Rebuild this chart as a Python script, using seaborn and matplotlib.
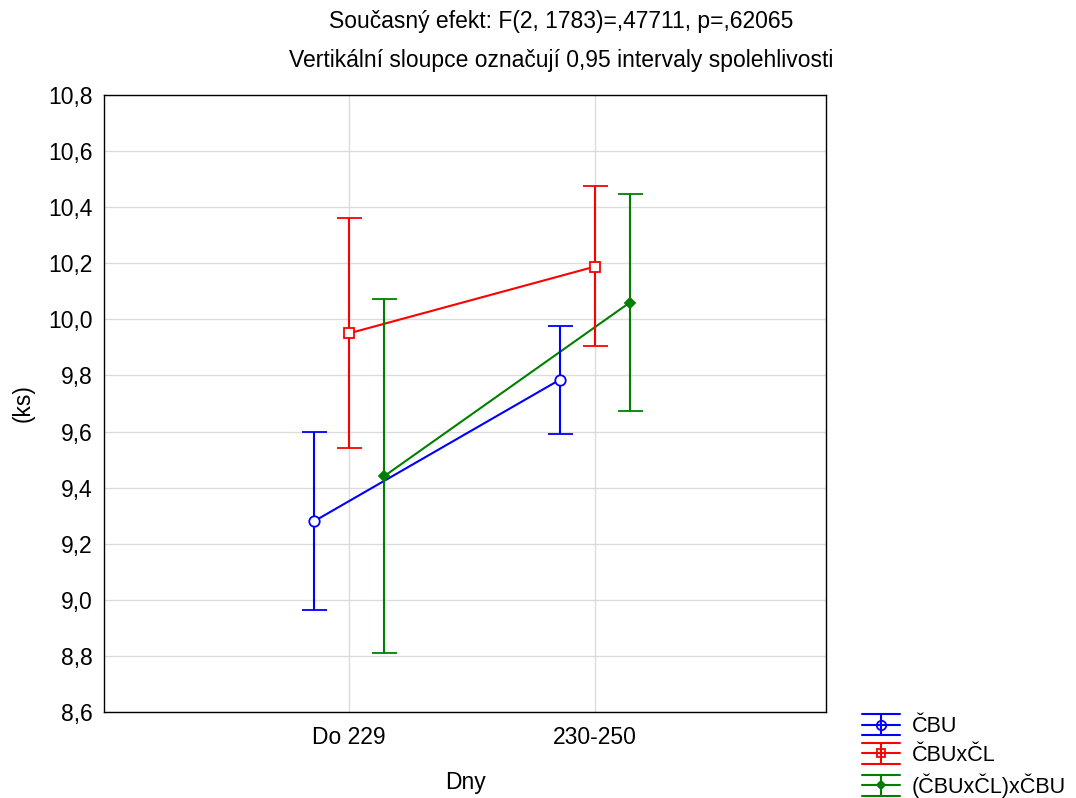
import numpy as np
import pandas as pd
import matplotlib
matplotlib.use("Agg")
import matplotlib.pyplot as plt
from matplotlib.lines import Line2D
from matplotlib.legend_handler import HandlerBase
import seaborn as sns

# data
categories = ["Do 229", "230-250"]
groups = ["ČBU", "ČBUxČL", "(ČBUxČL)xČBU"]
means_cbu = [9.28, 9.785]
low_cbu = [8.965, 9.592]
high_cbu = [9.597, 9.975]
means_cbucl = [9.95, 10.188]
low_cbucl = [9.54, 9.905]
high_cbucl = [10.362, 10.475]
means_mix = [9.44, 10.06]
low_mix = [8.812, 9.672]
high_mix = [10.072, 10.447]
ytick_values = [8.6, 8.8, 9.0, 9.2, 9.4, 9.6, 9.8, 10.0, 10.2, 10.4, 10.6, 10.8]
ytick_labels = ["8,6", "8,8", "9,0", "9,2", "9,4", "9,6", "9,8", "10,0", "10,2", "10,4", "10,6", "10,8"]

sns.set_style("white")
plt.rcParams['font.family'] = ['Liberation Sans', 'DejaVu Sans']
plt.rcParams['font.size'] = 16.5
plt.rcParams['text.color'] = 'black'
plt.rcParams['axes.labelcolor'] = 'black'
plt.rcParams['xtick.color'] = 'black'
plt.rcParams['ytick.color'] = 'black'

colors = ["#0000ff", "#ff0000", "#008000"]
markers = ["o", "s", "D"]
msizes = [7.5, 7, 5]
offsets = [-0.142, 0.0, 0.142]

means = [means_cbu, means_cbucl, means_mix]
lows = [low_cbu, low_cbucl, low_mix]
highs = [high_cbu, high_cbucl, high_mix]

rows = []
for g, m, lo, hi, off in zip(groups, means, lows, highs, offsets):
    for i, c in enumerate(categories):
        rows.append({"group": g, "Dny": c, "x": i + off, "mean": m[i], "low": lo[i], "high": hi[i]})
df = pd.DataFrame(rows)


# legend key like the original: caps + line + marker
class ErrKey(HandlerBase):
    def create_artists(self, legend, orig, xd, yd, width, height, fontsize, trans):
        col, mk, ms = orig
        cy = height / 2 - yd
        h = 7.5
        arts = [
            Line2D([-xd, width - xd], [cy + h, cy + h], color=col, lw=1.5),
            Line2D([-xd, width - xd], [cy, cy], color=col, lw=1.5),
            Line2D([-xd, width - xd], [cy - h, cy - h], color=col, lw=1.5),
            Line2D([width / 2 - xd] * 2, [cy - h, cy + h], color=col, lw=1.5),
            Line2D([width / 2 - xd], [cy], marker=mk, color=col, markersize=ms * 0.9,
                   markerfacecolor="none" if mk != "D" else col, markeredgewidth=1.3),
        ]
        for a in arts:
            a.set_transform(trans)
        return arts


fig = plt.figure(figsize=(10.76, 7.98), dpi=100)
ax = fig.add_axes([0.0967, 0.1078, 0.671, 0.7732])

keys = []
for g, col, mk, ms in zip(groups, colors, markers, msizes):
    d = df[df["group"] == g]
    sns.lineplot(data=d, x="x", y="mean", color=col, linewidth=1.5, ax=ax,
                 marker=None, legend=False)
    yerr = np.array([d["mean"] - d["low"], d["high"] - d["mean"]])
    ax.errorbar(d["x"], d["mean"], yerr=yerr, fmt=mk, color=col, ecolor=col,
                elinewidth=1.5, capsize=9, capthick=1.5, markersize=ms,
                markerfacecolor="white" if mk != "D" else col,
                markeredgewidth=1.3, zorder=3)
    keys.append((col, mk, ms))

ax.set_xlim(-0.996, 1.94)
ax.set_ylim(8.6, 10.8)
ax.set_xticks([0, 1])
ax.set_xticklabels(categories)
ax.set_yticks(ytick_values)
ax.set_yticklabels(ytick_labels)
ax.grid(True, color="#dcdcdc", linewidth=1)
ax.set_axisbelow(True)
for s in ax.spines.values():
    s.set_color("black")
    s.set_linewidth(1)
ax.tick_params(axis="y", direction="in", length=4, pad=8)
ax.tick_params(axis="x", length=0, pad=10)
ax.set_xlabel("Dny", labelpad=16)
ax.set_ylabel("(ks)", labelpad=10)

fig.text(0.5217, 0.973, "Současný efekt: F(2, 1783)=,47711, p=,62065", ha="center", va="center")
fig.text(0.5217, 0.924, "Vertikální sloupce označují 0,95 intervaly spolehlivosti", ha="center", va="center")

fig.legend(keys, groups, handler_map={tuple: ErrKey()}, loc="lower left",
           bbox_to_anchor=(0.801, 0.0), frameon=False, fontsize=15.5,
           handlelength=1.75, handletextpad=0.55, labelspacing=0.35,
           borderaxespad=0, borderpad=0)

fig.savefig("out.png", dpi=100)
